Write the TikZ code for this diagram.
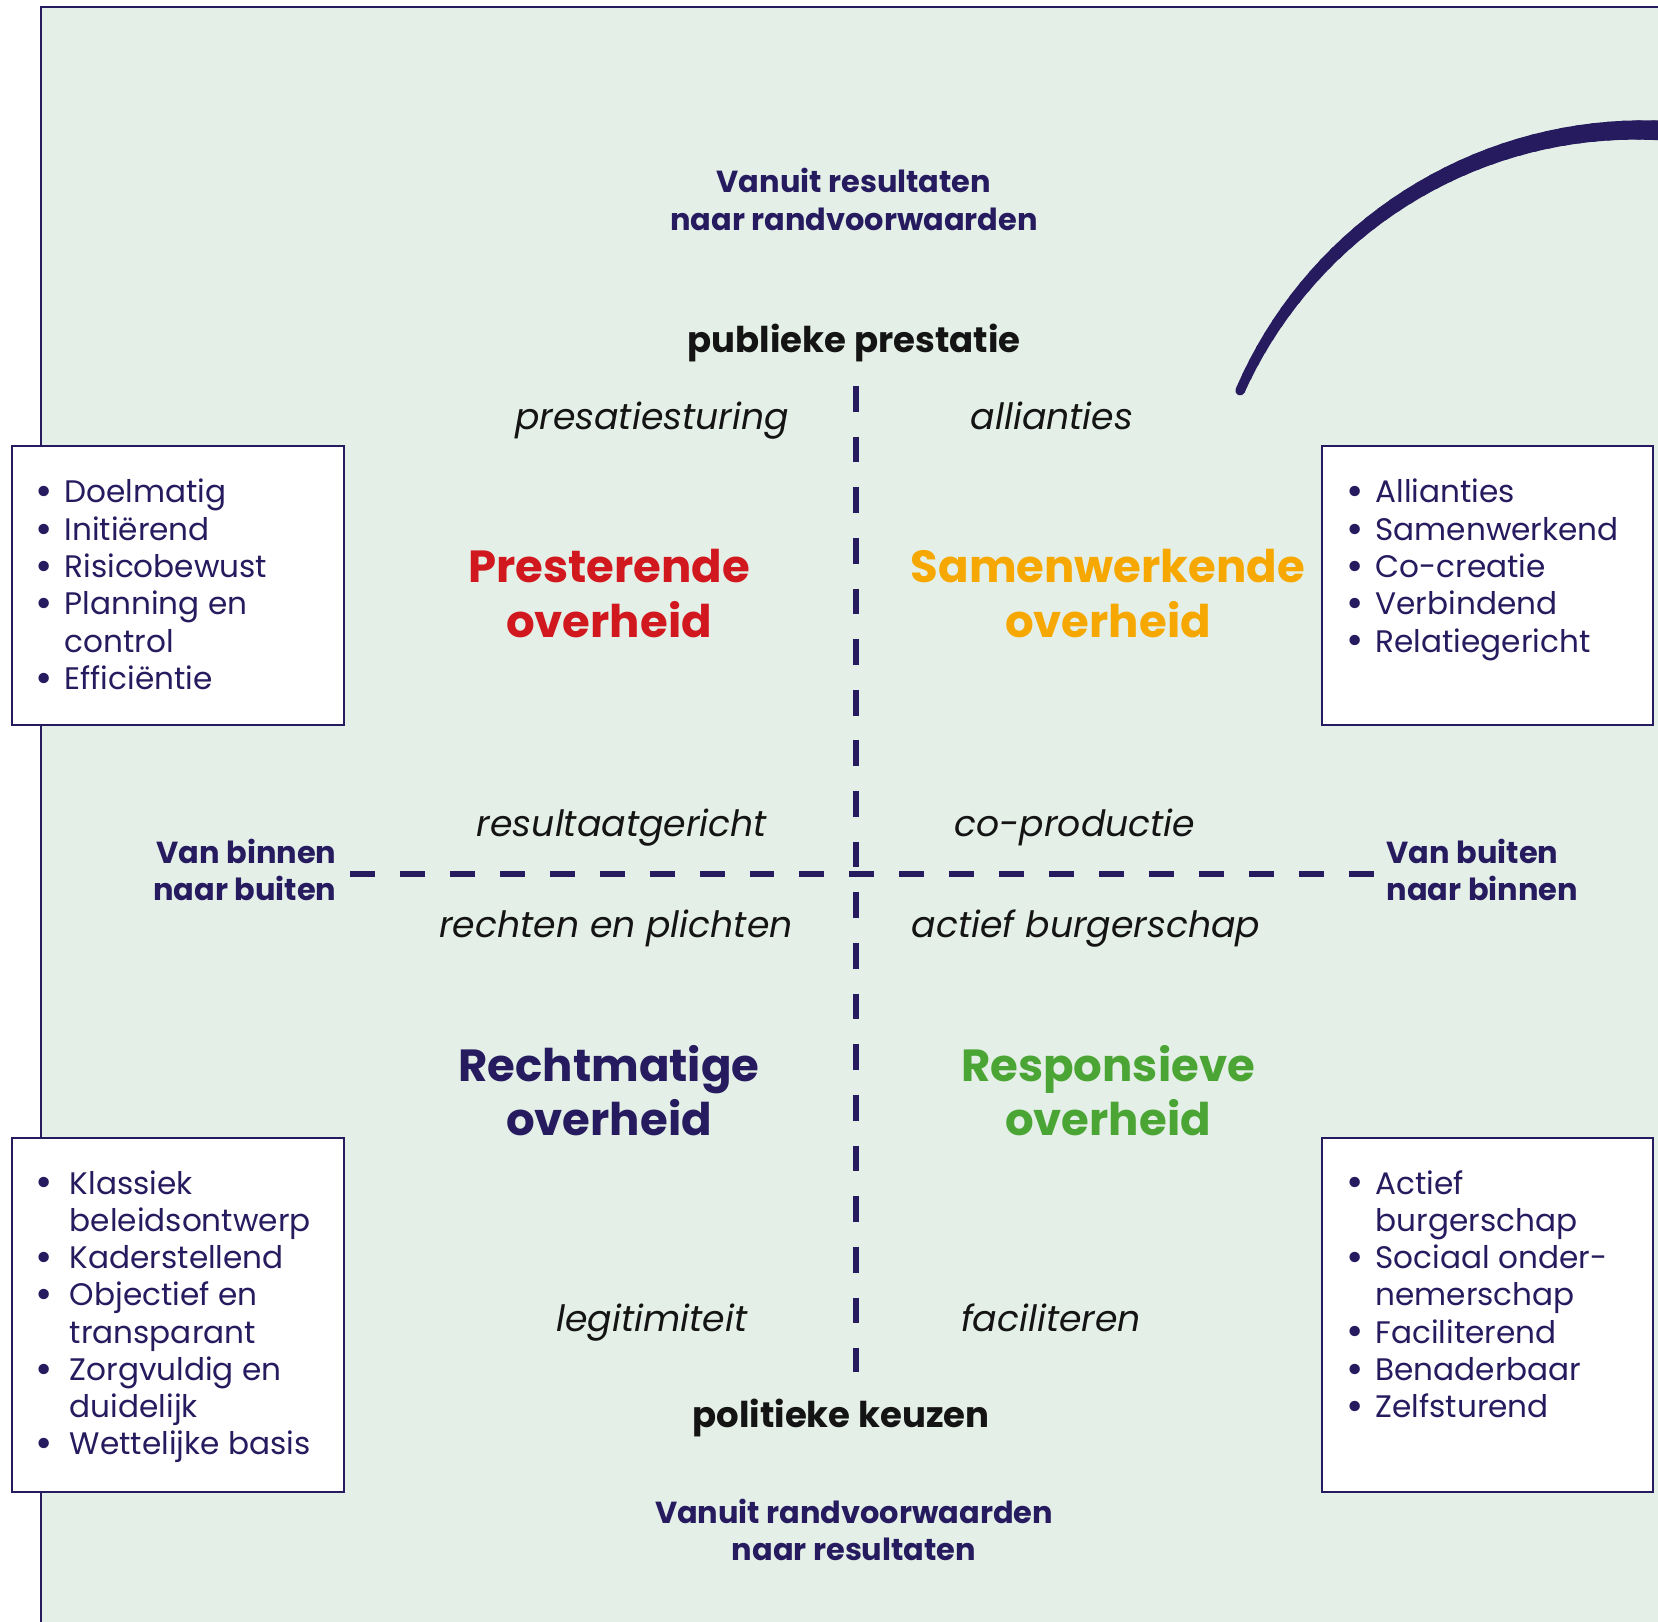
\documentclass[tikz,border=0pt]{standalone}
\usepackage{fontspec}
\setmainfont{Poppins}
\usepackage{tikz}

\definecolor{navy}{RGB}{37,27,94}
\definecolor{bggreen}{RGB}{228,239,231}
\definecolor{presred}{RGB}{210,24,31}
\definecolor{samorange}{RGB}{246,168,0}
\definecolor{respgreen}{RGB}{75,165,53}
\definecolor{inkblack}{RGB}{20,20,20}

\newcommand{\twoline}[3]{\begin{tabular}[t]{@{}#1@{}}#2\\#3\end{tabular}}
\newcommand{\bul}{\raisebox{-0.09em}{\scalebox{1.35}{\textbullet}}}

\begin{document}
\begin{tikzpicture}[x=0.01cm, y=0.01cm]
        \tikzstyle{every node}+=[inner sep=0pt]
        \tikzstyle{axislabel}=[text=navy, font=\fontsize{8.65}{10.8}\selectfont\bfseries]
        \tikzstyle{polelabel}=[text=inkblack, font=\fontsize{10.1}{12}\selectfont\bfseries]
        \tikzstyle{cornerlabel}=[text=inkblack, font=\fontsize{10.3}{12}\selectfont\itshape]
        \tikzstyle{title}=[font=\fontsize{12.8}{15.4}\selectfont\bfseries]
        \tikzstyle{listtext}=[text=navy, font=\fontsize{8.85}{10.6}\selectfont]
        \tikzstyle{listbox}=[draw=navy, fill=white, line width=0.5pt]
        \tikzstyle{axisline}=[navy, line width=1.85pt]
        \useasboundingbox (0,0) rectangle (1658,-1622);
        % background
        \fill [bggreen] (41,-7) rectangle (1658,-1622);
        \draw [navy, line width=0.6pt] (41,-1622) -- (41,-7) -- (1658,-7);
        % swoosh
        \foreach \a in {84,86,...,154}
          \draw [navy, line cap=round, line width={(2.7+(155.4-\a)*0.042)*1pt}] (1640,-567) ++(\a:437) arc (\a:\a+2.2:437);
        % axes
        \coordinate (ptop) at (856,-386);
        \coordinate (pbot) at (856,-1372);
        \coordinate (pleft) at (350,-874);
        \coordinate (pright) at (1375,-874);
        \draw [axisline, dash pattern=on 7.3pt off 7.1pt] (ptop) -- (pbot);
        \draw [axisline, dash pattern=on 7.1pt off 7.1pt] (pleft) -- (pright);
        % axis texts
        \node [axislabel, anchor=base] (vanres) at (854,-193) {\twoline{c}{Vanuit resultaten}{naar randvoorwaarden}};
        \node [axislabel, anchor=base] (vanrand) at (854,-1523) {\twoline{c}{Vanuit randvoorwaarden}{naar resultaten}};
        \node [axislabel, anchor=base east] (binnen) at (337,-863) {\twoline{r}{Van binnen}{naar buiten}};
        \node [axislabel, anchor=base west] (buiten) at (1386,-863) {\twoline{l}{Van buiten}{naar binnen}};
        \node [polelabel, anchor=base] (publiek) at (854,-353) {publieke prestatie};
        \node [polelabel, anchor=base] (politiek) at (841,-1427) {politieke keuzen};
        % corner texts
        \node [cornerlabel, anchor=base] (sturing) at (652,-430) {presatiesturing};
        \node [cornerlabel, anchor=base] (allian) at (1052,-430) {allianties};
        \node [cornerlabel, anchor=base] (result) at (622,-836) {resultaatgericht};
        \node [cornerlabel, anchor=base] (coprod) at (1075,-836) {co-productie};
        \node [cornerlabel, anchor=base] (rechten) at (616,-937) {rechten en plichten};
        \node [cornerlabel, anchor=base] (actief) at (1086,-937) {actief burgerschap};
        \node [cornerlabel, anchor=base] (legit) at (652,-1331) {legitimiteit};
        \node [cornerlabel, anchor=base] (facil) at (1051,-1331) {faciliteren};
        % quadrant titles
        \node [title, text=presred, anchor=base] (prest) at (609,-583) {\twoline{c}{Presterende}{overheid}};
        \node [title, text=samorange, anchor=base] (samen) at (1108,-583) {\twoline{c}{Samenwerkende}{overheid}};
        \node [title, text=navy, anchor=base] (recht) at (609,-1081) {\twoline{c}{Rechtmatige}{overheid}};
        \node [title, text=respgreen, anchor=base] (resp) at (1108,-1081) {\twoline{c}{Responsieve}{overheid}};
        % boxes
        \draw [listbox] (12,-446) rectangle (344,-725);
        \draw [listbox] (1322,-446) rectangle (1653,-725);
        \draw [listbox] (12,-1138) rectangle (344,-1492);
        \draw [listbox] (1322,-1138) rectangle (1653,-1492);
        \node [listtext, anchor=base west] (tllist) at (35,-503) {\begin{tabular}[t]{@{}p{8.2pt}@{}l@{}}
          \bul & Doelmatig\\
          \bul & Initiërend\\
          \bul & Risicobewust\\
          \bul & Planning en\\
               & control\\
          \bul & Efficiëntie
        \end{tabular}};
        \node [listtext, anchor=base west] (trlist) at (1346,-503) {\begin{tabular}[t]{@{}p{8.2pt}@{}l@{}}
          \bul & Allianties\\
          \bul & Samenwerkend\\
          \bul & Co-creatie\\
          \bul & Verbindend\\
          \bul & Relatiegericht
        \end{tabular}};
        \node [listtext, anchor=base west] (bllist) at (35,-1194) {\begin{tabular}[t]{@{}p{9.7pt}@{}l@{}}
          \bul & Klassiek\\
               & beleidsontwerp\\
          \bul & Kaderstellend\\
          \bul & Objectief en\\
               & transparant\\
          \bul & Zorgvuldig en\\
               & duidelijk\\
          \bul & Wettelijke basis
        \end{tabular}};
        \node [listtext, anchor=base west] (brlist) at (1346,-1194) {\begin{tabular}[t]{@{}p{8.2pt}@{}l@{}}
          \bul & Actief\\
               & burgerschap\\
          \bul & Sociaal onder-\\
               & nemerschap\\
          \bul & Faciliterend\\
          \bul & Benaderbaar\\
          \bul & Zelfsturend
        \end{tabular}};
\end{tikzpicture}
\end{document}
